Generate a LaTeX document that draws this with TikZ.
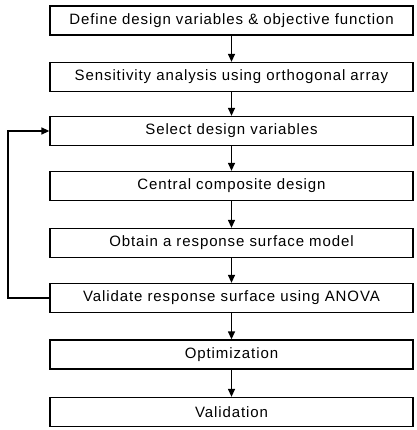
\documentclass[tikz,border=0pt]{standalone}
\usepackage{fontspec}
\setmainfont{Liberation Sans}[LetterSpace=6]
\usetikzlibrary{arrows.meta}
\begin{document}
\begin{tikzpicture}[x=1pt,y=-1pt,
  stepbox/.style={draw,line width=1.3pt,minimum width=363pt,minimum height=29pt,inner sep=0pt,font=\fontsize{15}{18}\selectfont},
  flow/.style={line width=1.3pt,-{Triangle[length=8pt,width=7pt]}}]
\useasboundingbox (0,0) rectangle (416,430);
\node[stepbox] (b1) at (231.5,20.5) {Define design variables \& objective function};
\node[stepbox] (b2) at (231.5,77) {Sensitivity analysis using orthogonal array};
\node[stepbox] (b3) at (231.5,131) {Select design variables};
\node[stepbox] (b4) at (231.5,186) {Central composite design};
\node[stepbox] (b5) at (231.5,243) {Obtain a response surface model};
\node[stepbox] (b6) at (231.5,298) {Validate response surface using ANOVA};
\node[stepbox] (b7) at (231.5,354.5) {Optimization};
\node[stepbox] (b8) at (231.5,412) {Validation};
\foreach \a/\b in {b1/b2,b2/b3,b3/b4,b4/b5,b5/b6,b6/b7,b7/b8}
  \draw[flow] (\a) -- (\b);
\coordinate (lp) at (8,0);
\draw[flow] (b6.west) -| (lp |- b6.west) -- (lp |- b3.west) -- (b3.west);
\end{tikzpicture}
\end{document}
